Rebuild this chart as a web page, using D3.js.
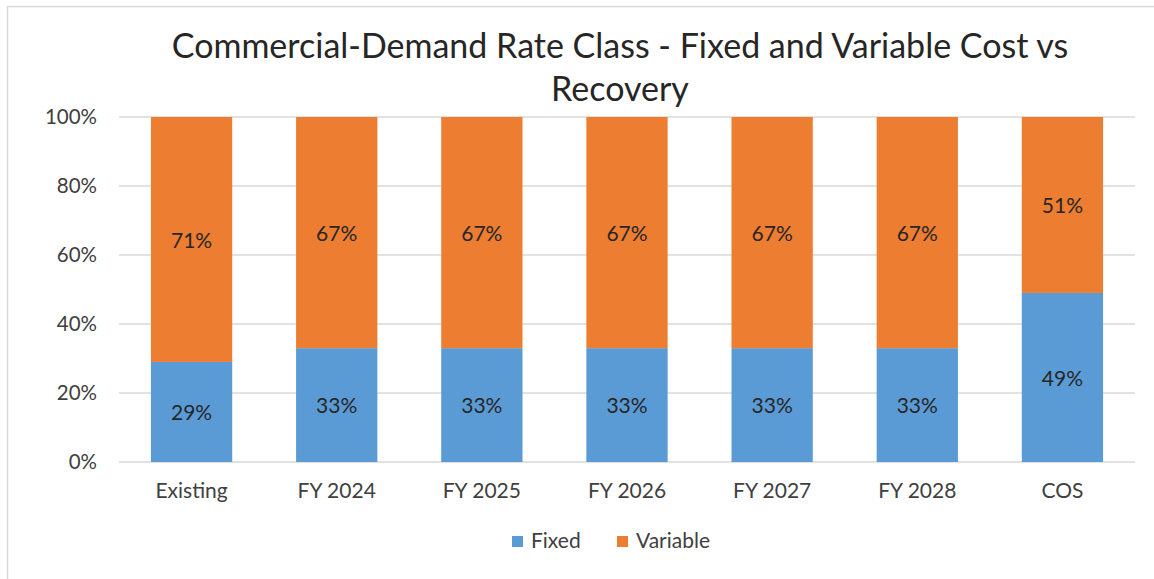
<!DOCTYPE html>
<html>
<head>
<meta charset="utf-8">
<script src="https://cdn.jsdelivr.net/npm/d3@7"></script>
<style>
  body { margin: 0; background: #fff; }
</style>
</head>
<body>
<div id="chart"></div>
<script>
// Chart data
const categories = ["Existing", "FY 2024", "FY 2025", "FY 2026", "FY 2027", "FY 2028", "COS"];
const fixed = [29, 33, 33, 33, 33, 33, 49];
const variable = [71, 67, 67, 67, 67, 67, 51];
const seriesNames = ["Fixed", "Variable"];
const yTicks = [0, 20, 40, 60, 80, 100];

const colors = { Fixed: "#5B9BD5", Variable: "#ED7D31" };

const W = 1154, H = 579;
const margin = { top: 117, right: 19, bottom: 117, left: 119 },
    width = W - margin.left - margin.right,
    height = H - margin.top - margin.bottom;

const root = d3.select("#chart")
  .append("svg")
    .attr("width", W)
    .attr("height", H)
    .style("font-family", "Lato, 'Open Sans', sans-serif");

// Outer chart border (cropped at right and bottom)
root.append("rect")
    .attr("x", 7.5).attr("y", 6.5)
    .attr("width", W + 10).attr("height", H + 10)
    .attr("fill", "none")
    .attr("stroke", "#D9D9D9")
    .attr("stroke-width", 1.5);

const svg = root.append("g")
    .attr("transform", `translate(${margin.left},${margin.top})`);

// Scales
const x = d3.scaleBand()
  .domain(categories)
  .range([0, width])
  .paddingInner(0.44)
  .paddingOuter(0.22);

const y = d3.scaleLinear()
  .domain([0, 100])
  .range([height, 0]);

// Gridlines
svg.append("g")
  .selectAll("line")
  .data(yTicks)
  .enter()
  .append("line")
    .attr("x1", 0)
    .attr("x2", width)
    .attr("y1", d => y(d))
    .attr("y2", d => y(d))
    .attr("stroke", "#D9D9D9")
    .attr("stroke-width", 1.5);

// Y axis labels
const yAxis = svg.append("g")
  .call(d3.axisLeft(y).tickValues(yTicks).tickFormat(d => d + "%").tickSize(0).tickPadding(22));
yAxis.select(".domain").remove();
yAxis.selectAll("text")
  .style("font-size", "20.5px")
  .style("font-family", "Lato, 'Open Sans', sans-serif")
  .attr("fill", "#404040");

// X axis labels
const xAxis = svg.append("g")
  .attr("transform", `translate(0,${height})`)
  .call(d3.axisBottom(x).tickSize(0).tickPadding(21));
xAxis.select(".domain").remove();
xAxis.selectAll("text")
  .style("font-size", "21px")
  .style("font-family", "Lato, 'Open Sans', sans-serif")
  .attr("fill", "#404040");

// Stacked data
const rows = categories.map((c, i) => ({ cat: c, Fixed: fixed[i], Variable: variable[i] }));
const stacked = d3.stack().keys(seriesNames)(rows);

const layers = svg.selectAll("g.layer")
  .data(stacked)
  .enter()
  .append("g")
    .attr("class", "layer")
    .attr("fill", d => colors[d.key]);

layers.selectAll("rect")
  .data(d => d)
  .enter()
  .append("rect")
    .attr("x", d => x(d.data.cat))
    .attr("y", d => y(d[1]))
    .attr("width", x.bandwidth())
    .attr("height", d => y(d[0]) - y(d[1]));

// Data labels
layers.selectAll("text")
  .data(d => d.map(v => ({ v, key: d.key })))
  .enter()
  .append("text")
    .attr("x", d => x(d.v.data.cat) + x.bandwidth() / 2)
    .attr("y", d => (y(d.v[0]) + y(d.v[1])) / 2)
    .attr("dy", "0.4em")
    .attr("text-anchor", "middle")
    .attr("fill", "#262626")
    .style("font-size", "21px")
    .text(d => d.v.data[d.key] + "%");

// Title
const title = root.append("text")
    .attr("x", 620)
    .attr("text-anchor", "middle")
    .attr("fill", "#262626")
    .style("font-size", "34px");
title.append("tspan").attr("x", 620).attr("y", 58)
  .text("Commercial-Demand Rate Class - Fixed and Variable Cost vs");
title.append("tspan").attr("x", 620).attr("y", 101)
  .text("Recovery");

// Legend
const legendX = [512, 617];
const legend = root.append("g");
seriesNames.forEach((name, i) => {
  legend.append("rect")
    .attr("x", legendX[i])
    .attr("y", 536)
    .attr("width", 11)
    .attr("height", 11)
    .attr("fill", colors[name]);
  legend.append("text")
    .attr("x", legendX[i] + 19)
    .attr("y", 548)
    .attr("fill", "#404040")
    .style("font-size", "21px")
    .text(name);
});
</script>
</body>
</html>
